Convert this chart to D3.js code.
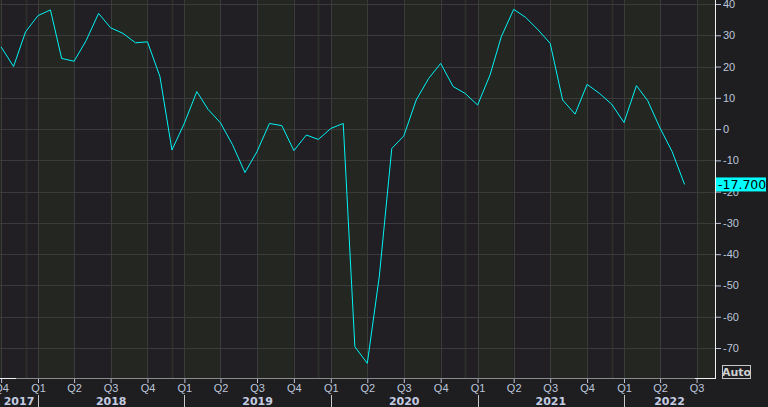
<!DOCTYPE html>
<html>
<head>
<meta charset="utf-8">
<script src="https://cdn.jsdelivr.net/npm/d3@7"></script>
<style>
  body { margin: 0; background: #1e1d20; }
  svg { display: block; font-family: "DejaVu Sans", "Liberation Sans", sans-serif; }
</style>
</head>
<body>
<svg id="chart"></svg>
<script>
// monthly readings, Oct 2017 .. Jun 2022
var startMonth = "2017-10-01";
var values = [
  26.3, 20.0, 31.1,
  36.3, 38.1, 22.6, 21.7, 28.3, 37.0, 32.4, 30.6, 27.6, 27.9, 16.8, -6.7,
  1.9, 12.0, 6.3, 2.0, -5.0, -13.9, -7.2, 1.8, 1.1, -6.9, -1.9, -3.3,
  0.2, 1.8, -69.6, -74.9, -47.0, -6.2, -2.2, 9.3, 16.2, 21.0, 13.6, 11.4,
  7.7, 17.3, 29.5, 38.3, 35.7, 31.7, 27.4, 9.3, 4.8, 14.3, 11.4, 8.0,
  2.1, 13.9, 9.1, 0.3, -7.2, -17.7
];
var yTicks = [40, 30, 20, 10, 0, -10, -20, -30, -40, -50, -60, -70];
var years = [2017, 2018, 2019, 2020, 2021, 2022];
var lastLabel = "-17.700";

var width = 768, height = 407;
var plotRight = 715, plotBottom = 378;

var svg = d3.select("#chart").attr("width", width).attr("height", height);

var parse = d3.utcParse("%Y-%m-%d");
var t0 = parse(startMonth);
var data = values.map(function(v, i){ return {date: d3.utcMonth.offset(t0, i), v: v}; });

var xScale = d3.scaleUtc()
  .domain([new Date(Date.UTC(2018,0,1)), new Date(Date.UTC(2022,0,1))])
  .range([38, 624]);
var yScale = d3.scaleLinear().domain([-70, 40]).range([348, 4]);

var xMin = xScale.invert(0), xMax = xScale.invert(plotRight);
function clipX(x){ return Math.max(0, Math.min(plotRight, x)); }

// quarter bands
var quarters = d3.utcMonth.every(3).range(d3.utcMonth.every(3).floor(xMin), xMax);
var g = svg.append("g");
quarters.forEach(function(q){
  var x1 = clipX(xScale(q)), x2 = clipX(xScale(d3.utcMonth.offset(q, 3)));
  var qi = q.getUTCMonth() / 3;
  g.append("rect")
    .attr("x", x1).attr("y", 0)
    .attr("width", x2 - x1).attr("height", plotBottom)
    .attr("fill", qi % 2 == 0 ? "#242622" : "#211f23");
});

// faint marker a month before each new year
years.slice(1).forEach(function(y){
  var x = Math.round(xScale(new Date(Date.UTC(y - 1, 11, 1)))) + 0.5;
  g.append("line").attr("x1", x).attr("x2", x).attr("y1", 0).attr("y2", plotBottom)
    .attr("stroke", "#2d2f2c").attr("stroke-width", 2);
});

// grid
yTicks.forEach(function(t){
  var y = Math.round(yScale(t)) + 0.5;
  g.append("line").attr("x1", 0).attr("x2", plotRight).attr("y1", y).attr("y2", y)
    .attr("stroke", "#3b3b3b");
});
quarters.forEach(function(q){
  var x = Math.round(xScale(q)) + 0.5;
  if (x < 0 || x > plotRight) return;
  g.append("line").attr("x1", x).attr("x2", x).attr("y1", 0).attr("y2", plotBottom)
    .attr("stroke", "#3b3b3b");
});

// line
var line = d3.line()
  .x(function(d){ return xScale(d.date); })
  .y(function(d){ return yScale(d.v); });
svg.append("path")
  .datum(data)
  .attr("d", line)
  .attr("fill", "none")
  .attr("stroke", "#00f4f4")
  .attr("stroke-width", 1);

// right axis
svg.append("line").attr("x1", plotRight + 0.5).attr("x2", plotRight + 0.5)
  .attr("y1", 0).attr("y2", plotBottom + 1).attr("stroke", "#f0f0f0");
var yAxis = d3.axisRight(yScale).tickValues(yTicks).tickSize(5).tickPadding(2)
  .tickFormat(function(d){ return d < 0 ? "-" + Math.abs(d) : d; });
var ya = svg.append("g").attr("transform", "translate(" + (plotRight + 1) + ",0)").call(yAxis);
ya.select(".domain").remove();
ya.selectAll(".tick line").attr("stroke", "#b8c2d6");
ya.selectAll(".tick text").attr("fill", "#bcc6da").style("font-size", "11px");

// last value label
var ly = yScale(values[values.length - 1]);
svg.append("rect").attr("x", plotRight + 1).attr("y", ly - 7)
  .attr("width", 50).attr("height", 14).attr("fill", "#00ffff");
svg.append("text").attr("x", plotRight + 3).attr("y", ly + 4.5)
  .attr("fill", "#000").style("font-size", "12.5px").text(lastLabel);

// bottom axis
svg.append("line").attr("x1", 0).attr("x2", plotRight).attr("y1", plotBottom + 0.5).attr("y2", plotBottom + 0.5)
  .attr("stroke", "#8a8a8a");
svg.append("line").attr("x1", 0).attr("x2", 16).attr("y1", plotBottom + 0.5).attr("y2", plotBottom + 0.5)
  .attr("stroke", "#f0f0f0");
svg.append("line").attr("x1", 695).attr("x2", plotRight).attr("y1", plotBottom + 0.5).attr("y2", plotBottom + 0.5)
  .attr("stroke", "#f0f0f0");

var xAxis = d3.axisBottom(xScale)
  .tickValues(quarters.filter(function(q){ return xScale(q) >= 0 && xScale(q) <= plotRight; }))
  .tickSize(4).tickPadding(1)
  .tickFormat(function(d){ return "Q" + (d.getUTCMonth() / 3 + 1); });
var xa = svg.append("g").attr("transform", "translate(0," + (plotBottom + 1) + ")").call(xAxis);
xa.select(".domain").remove();
xa.selectAll(".tick line").attr("stroke", "#b8c2d6");
xa.selectAll(".tick text").attr("fill", "#bcc6da").style("font-size", "11px");

// years
years.forEach(function(y){
  var a = clipX(xScale(new Date(Date.UTC(y, 0, 1))));
  var b = clipX(xScale(new Date(Date.UTC(y + 1, 0, 1))));
  if (y > years[0]) {
    var xs = Math.round(a) + 0.5;
    svg.append("line").attr("x1", xs).attr("x2", xs).attr("y1", 395).attr("y2", height)
      .attr("stroke", "#c8c8c8");
  }
  svg.append("text").attr("x", (a + b) / 2).attr("y", 405)
    .attr("text-anchor", "middle").attr("fill", "#c4cce0")
    .style("font-size", "11px").style("font-weight", "bold").text(y);
});

// Auto button
svg.append("rect").attr("x", 722.5).attr("y", 365.5).attr("width", 28).attr("height", 13)
  .attr("fill", "none").attr("stroke", "#c8c8c8");
svg.append("text").attr("x", 736.5).attr("y", 376).attr("text-anchor", "middle")
  .attr("fill", "#d0d0d0").style("font-size", "11px").style("font-weight", "bold").text("Auto");
</script>
</body>
</html>
